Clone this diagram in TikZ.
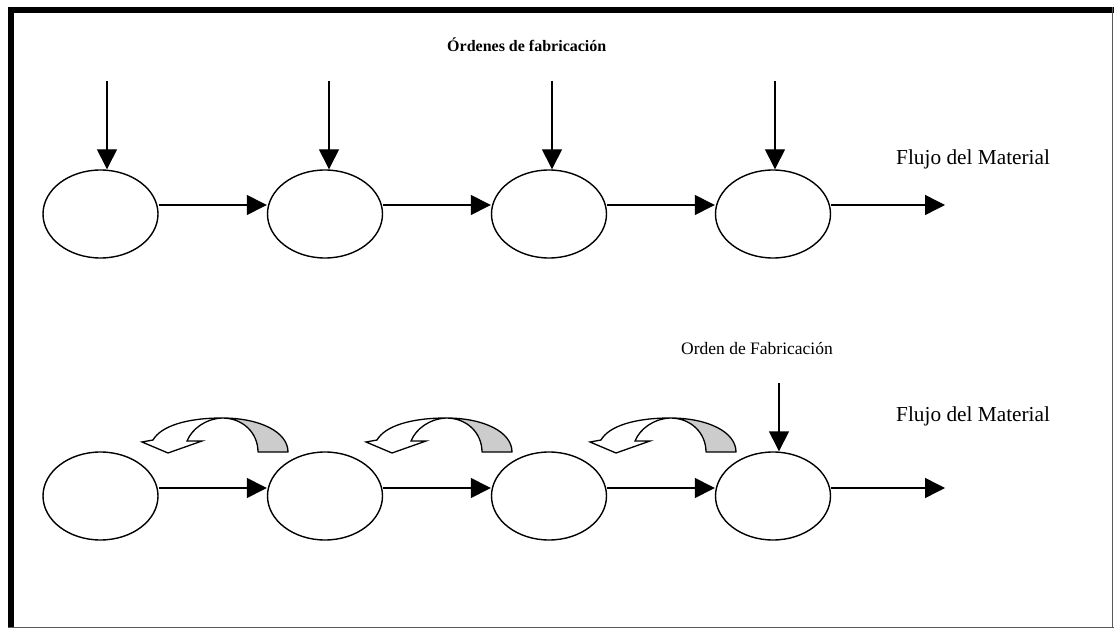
\documentclass[tikz,border=0pt]{standalone}
\usepackage{fontspec}
\setmainfont{Liberation Serif}
\usetikzlibrary{arrows.meta,shapes.geometric}
\begin{document}
\begin{tikzpicture}[x=1pt,y=-1pt,
  stage/.style={draw,line width=1.4pt,ellipse,minimum width=115pt,minimum height=88pt,inner sep=0pt},
  flow/.style={line width=1.4pt,-{Triangle[length=20pt,width=20pt]}},
  lbl/.style={inner sep=0pt,anchor=base west},
  uturn/.pic={
    \filldraw[fill=gray!40,line width=1.3pt,line join=round]
      (146,34) .. controls (146,14) and (118,0) .. (80,0)
      .. controls (101,0) and (116,15) .. (116,34) -- cycle;
    \filldraw[fill=white,line width=1.3pt,line join=miter]
      (80,0) .. controls (45,0) and (19,8) .. (11,22) -- (0,24) -- (26,35) -- (60,23) -- (45,23)
      .. controls (50,11) and (63,1) .. (80,0) -- cycle;
  }]
\useasboundingbox (0,0) rectangle (1114,628);
% frame
\fill[black] (8,7) rectangle (1114,13);
\fill[black] (8,7) rectangle (14,628);
\draw[gray!70!black,line width=1.2pt] (1112.6,7) -- (1112.6,628);
\draw[gray!70!black,line width=1.2pt] (8,627.4) -- (1114,627.4);
% top row
\node[stage] (a1) at (100.5,214) {};
\node[stage] (a2) at (325,214) {};
\node[stage] (a3) at (549,214) {};
\node[stage] (a4) at (773,214) {};
\coordinate (aout) at (945,205);
\draw[flow] ([yshift=9pt]a1.east) -- ([yshift=9pt]a2.west);
\draw[flow] ([yshift=9pt]a2.east) -- ([yshift=9pt]a3.west);
\draw[flow] ([yshift=9pt]a3.east) -- ([yshift=9pt]a4.west);
\draw[flow] ([yshift=9pt]a4.east) -- (aout);
\coordinate (t1) at (107,81);
\coordinate (t2) at (329,81);
\coordinate (t3) at (552,81);
\coordinate (t4) at (775,81);
\draw[flow] (t1) -- (t1 |- a1.north);
\draw[flow] (t2) -- (t2 |- a2.north);
\draw[flow] (t3) -- (t3 |- a3.north);
\draw[flow] (t4) -- (t4 |- a4.north);
\node[lbl,font=\fontsize{16}{19}\selectfont\bfseries] (ord) at (447,52) {Órdenes de fabricación};
\node[lbl,font=\fontsize{21.3}{25}\selectfont] (fm1) at (896,165) {Flujo del Material};
% bottom row
\node[stage] (b1) at (100.5,496) {};
\node[stage] (b2) at (325,496) {};
\node[stage] (b3) at (549,496) {};
\node[stage] (b4) at (773,496) {};
\coordinate (bout) at (945,488);
\draw[flow] ([yshift=8pt]b1.east) -- ([yshift=8pt]b2.west);
\draw[flow] ([yshift=8pt]b2.east) -- ([yshift=8pt]b3.west);
\draw[flow] ([yshift=8pt]b3.east) -- ([yshift=8pt]b4.west);
\draw[flow] ([yshift=8pt]b4.east) -- (bout);
\coordinate (t5) at (779,383);
\draw[flow] (t5) -- (t5 |- b4.north);
\node[lbl,font=\fontsize{17.5}{21}\selectfont] (of) at (681,355) {Orden de Fabricación};
\node[lbl,font=\fontsize{21.3}{25}\selectfont] (fm2) at (896,421) {Flujo del Material};
\pic at (142,418) {uturn};
\pic at (366,418) {uturn};
\pic at (590,418) {uturn};
\end{tikzpicture}
\end{document}
